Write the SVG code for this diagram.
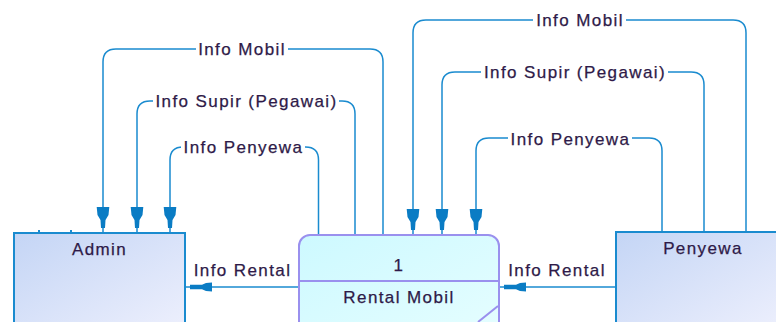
<svg xmlns="http://www.w3.org/2000/svg" width="776" height="322" viewBox="0 0 776 322">
<style>
.flow{fill:none;stroke:#1a8bcf;stroke-width:1.5}
.lbl{font-family:"Liberation Sans",Arial,sans-serif;font-size:17px;letter-spacing:1.4px;fill:#2e1a48;stroke:#2e1a48;stroke-width:0.25;text-anchor:middle}
.bg{fill:#ffffff}
.ext{stroke:#1a8bcf;stroke-width:2}
.proc{fill:url(#gProc);stroke:#9a90ee;stroke-width:2}
</style>
<defs>
<linearGradient id="gExt" x1="0" y1="0" x2="1" y2="1">
<stop offset="0" stop-color="#c4d5f5"/>
<stop offset="1" stop-color="#eef0fd"/>
</linearGradient>
<linearGradient id="gProc" x1="0" y1="0" x2="1" y2="1">
<stop offset="0" stop-color="#cdf9ff"/>
<stop offset="1" stop-color="#e6feff"/>
</linearGradient>
<marker id="arrV" markerUnits="userSpaceOnUse" viewBox="-30 -8 32 16" refX="0" refY="0" markerWidth="32" markerHeight="16" orient="auto">
<path d="M-26,-6.3 L-26,6.3 L-18,5.5 L-13,2.5 L-5,2 L-5,-2 L-13,-2.5 L-18,-5.5 Z" fill="#0a7cc4"/>
</marker>
<marker id="arrH" markerUnits="userSpaceOnUse" viewBox="-30 -8 32 16" refX="0" refY="0" markerWidth="32" markerHeight="16" orient="auto">
<path d="M-26,-4.5 L-26,4.5 L-20,4 L-16,2.2 L-4,2.2 L-4,-2.2 L-16,-2.2 L-20,-4 Z" fill="#0a7cc4"/>
</marker>
</defs>
<rect width="776" height="322" fill="#ffffff"/>

<g id="connectors">
<path class="flow" d="M383,235 V62 Q383,49 370,49 H116 Q103,49 103,62 V233" marker-end="url(#arrV)"/>
<path class="flow" d="M355,235 V114 Q355,101 342,101 H150 Q137,101 137,114 V233" marker-end="url(#arrV)"/>
<path class="flow" d="M318.5,235 V160 Q318.5,147 305.5,147 H183 Q170,147 170,160 V233" marker-end="url(#arrV)"/>
<path class="flow" d="M746,232 V33 Q746,20 733,20 H426 Q413,20 413,33 V235" marker-end="url(#arrV)"/>
<path class="flow" d="M704,232 V85 Q704,72 691,72 H455 Q442,72 442,85 V235" marker-end="url(#arrV)"/>
<path class="flow" d="M662,232 V151 Q662,138 649,138 H489 Q476,138 476,151 V235" marker-end="url(#arrV)"/>
<path class="flow" d="M301,287 H186" marker-end="url(#arrH)"/>
<path class="flow" d="M616,287 H500" marker-end="url(#arrH)"/>
<rect class="bg" x="196" y="42" width="92" height="15"/>
<rect class="bg" x="153" y="94" width="186" height="15"/>
<rect class="bg" x="181" y="140" width="124" height="15"/>
<rect class="bg" x="533" y="13" width="93" height="15"/>
<rect class="bg" x="481" y="65" width="187" height="15"/>
<rect class="bg" x="508" y="131" width="124" height="15"/>
<text class="lbl" x="242" y="55">Info Mobil</text>
<text class="lbl" x="246.5" y="107">Info Supir (Pegawai)</text>
<text class="lbl" x="243.5" y="153">Info Penyewa</text>
<text class="lbl" x="580" y="26">Info Mobil</text>
<text class="lbl" x="575" y="78">Info Supir (Pegawai)</text>
<text class="lbl" x="570.5" y="144.5">Info Penyewa</text>
<text class="lbl" x="242.5" y="276">Info Rental</text>
<text class="lbl" x="557" y="276">Info Rental</text>
</g>

<g id="admin">
<rect class="ext" x="14" y="233" width="171" height="100" fill="url(#gExt)"/>
<path class="ext" d="M39,230 V233 M71,230 V233" stroke-width="1.5"/>
<text class="lbl" x="99.5" y="255">Admin</text>
</g>

<g id="rental-mobil">
<rect class="proc" x="299" y="235" width="200" height="110" rx="11" ry="11"/>
<path d="M299,281 H499 M478,322 L498,306" fill="none" stroke="#9a90ee" stroke-width="2"/>
<text class="lbl" x="399" y="270.5">1</text>
<text class="lbl" x="399" y="302.5">Rental Mobil</text>
</g>

<g id="penyewa">
<rect class="ext" x="616" y="232" width="170" height="100" fill="url(#gExt)"/>
<text class="lbl" x="703" y="253.5">Penyewa</text>
</g>
</svg>
